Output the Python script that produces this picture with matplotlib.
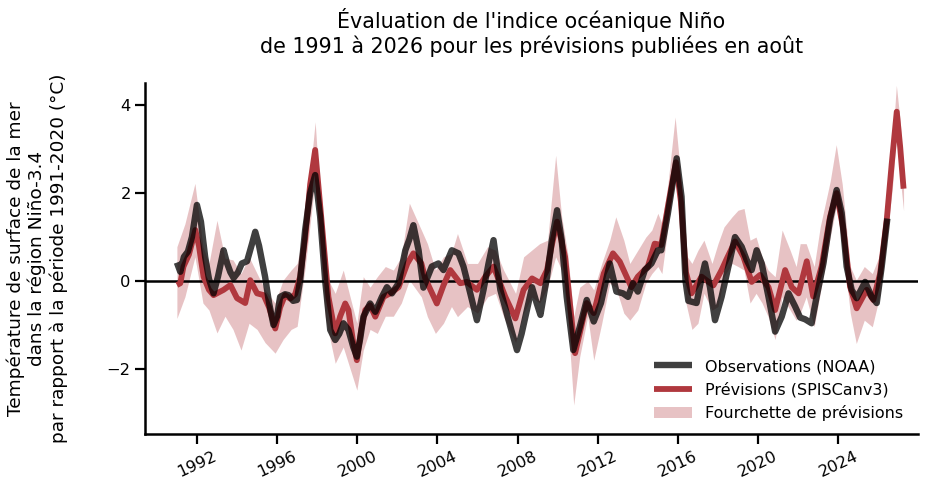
import matplotlib
matplotlib.use("Agg")
import matplotlib.pyplot as plt
import numpy as np

# ---- Data (decimal years) ----
obs_t = [1991.0, 1991.17, 1991.35, 1991.55, 1991.75, 1992.0, 1992.2, 1992.41, 1992.6, 1992.83,
         1993.05, 1993.33, 1993.5, 1993.67, 1993.83, 1994.05, 1994.24, 1994.5, 1994.75, 1994.91,
         1995.1, 1995.4, 1995.6, 1995.82, 1996.0, 1996.15, 1996.4, 1996.57, 1996.8, 1996.99,
         1997.15, 1997.4, 1997.65, 1997.9, 1998.15, 1998.4, 1998.65, 1998.9, 1999.1, 1999.31,
         1999.56, 1999.8, 1999.98, 2000.15, 2000.31, 2000.64, 2000.9, 2001.23, 2001.48, 2001.73,
         2002.06, 2002.4, 2002.6, 2002.8, 2003.06, 2003.3, 2003.72, 2004.05, 2004.3, 2004.72,
         2005.05, 2005.3, 2005.64, 2005.97, 2006.3, 2006.55, 2006.8, 2007.14, 2007.55, 2007.97,
         2008.2, 2008.39, 2008.72, 2008.95, 2009.14, 2009.47, 2009.7, 2009.97, 2010.2, 2010.45,
         2010.78, 2011.1, 2011.45, 2011.8, 2012.16, 2012.6, 2012.93, 2013.26, 2013.51, 2013.76,
         2014.0, 2014.35, 2014.68, 2015.0, 2015.17, 2015.5, 2015.94, 2016.18, 2016.38, 2016.52,
         2016.68, 2016.93, 2017.15, 2017.35, 2017.6, 2017.85, 2018.18, 2018.52, 2018.85, 2019.18,
         2019.43, 2019.68, 2019.93, 2020.18, 2020.52, 2020.85, 2021.18, 2021.52, 2021.85, 2022.1,
         2022.35, 2022.67, 2022.92, 2023.26, 2023.59, 2023.92, 2024.17, 2024.42, 2024.67, 2024.92,
         2025.34, 2025.67, 2025.92, 2026.17, 2026.45]
obs_v = [0.42, 0.21, 0.55, 0.67, 1.0, 1.73, 1.35, 0.55, 0.05, -0.28,
         0.1, 0.70, 0.41, 0.2, 0.07, 0.2, 0.40, 0.45, 0.85, 1.12,
         0.8, 0.1, -0.5, -1.0, -0.8, -0.36, -0.3, -0.32, -0.45, -0.43,
         0.02, 1.16, 2.0, 2.41, 1.46, 0.0, -1.11, -1.34, -1.2, -0.96,
         -1.11, -1.5, -1.72, -1.3, -0.81, -0.51, -0.7, -0.36, -0.14, -0.28,
         -0.05, 0.7, 0.95, 1.27, 0.7, -0.15, 0.33, 0.4, 0.25, 0.7,
         0.63, 0.33, -0.28, -0.89, -0.2, 0.4, 0.93, -0.2, -0.89, -1.57,
         -1.2, -0.81, -0.14, -0.5, -0.77, 0.1, 0.9, 1.61, 0.93, -0.36,
         -1.57, -1.05, -0.43, -0.92, -0.5, 0.4, -0.24, -0.28, -0.36, -0.05,
         -0.24, 0.25, 0.4, 0.7, 0.7, 1.54, 2.79, 1.92, 0.0, -0.45,
         -0.47, -0.5, 0.0, 0.4, -0.14, -0.89, -0.36, 0.33, 1.0, 0.78,
         0.48, 0.25, 0.7, 0.4, -0.36, -1.15, -0.81, -0.28, -0.58, -0.83,
         -0.87, -0.96, -0.36, 0.4, 1.39, 2.07, 1.55, 0.33, -0.2, -0.39,
         -0.02, -0.36, -0.5, 0.33, 1.42]

fc_t = [1991.0, 1991.17, 1991.33, 1991.6, 1991.92, 1992.1, 1992.33, 1992.6, 1992.83, 1993.33,
        1993.67, 1994.0, 1994.41, 1994.66, 1995.0, 1995.33, 1995.6, 1995.91, 1996.15, 1996.4,
        1996.65, 1996.9, 1997.15, 1997.4, 1997.65, 1997.9, 1998.2, 1998.56, 1998.9, 1999.15,
        1999.4, 1999.56, 1999.8, 1999.98, 2000.2, 2000.4, 2000.64, 2000.9, 2001.31, 2001.64,
        2002.06, 2002.5, 2002.8, 2003.2, 2003.39, 2003.97, 2004.3, 2004.64, 2005.14, 2005.47,
        2005.97, 2006.39, 2006.8, 2007.39, 2007.89, 2008.3, 2008.72, 2009.14, 2009.47, 2009.7,
        2009.97, 2010.37, 2010.87, 2011.45, 2011.8, 2012.3, 2012.76, 2013.1, 2013.68, 2014.0,
        2014.5, 2014.84, 2015.17, 2015.5, 2015.9, 2016.15, 2016.4, 2016.68, 2017.18, 2017.77,
        2018.18, 2018.43, 2018.85, 2019.27, 2019.68, 2020.1, 2020.52, 2020.85, 2021.35, 2021.68,
        2022.02, 2022.43, 2022.75, 2023.17, 2023.59, 2023.92, 2024.26, 2024.59, 2024.92, 2025.42,
        2025.75, 2026.09, 2026.42, 2026.67, 2026.92, 2027.09, 2027.26]
fc_v = [-0.09, -0.05, 0.33, 0.6, 1.16, 0.8, 0.1, -0.2, -0.32, -0.2,
        -0.09, -0.39, -0.5, 0.02, -0.28, -0.32, -0.6, -1.08, -0.6, -0.32,
        -0.4, -0.3, 0.1, 0.97, 2.2, 2.98, 1.46, -0.36, -1.19, -0.8,
        -0.51, -0.66, -1.4, -1.8, -1.1, -0.66, -0.55, -0.81, -0.36, -0.28,
        -0.14, 0.4, 0.63, 0.4, 0.06, -0.51, -0.1, 0.25, -0.05, -0.02,
        -0.2, 0.1, 0.33, -0.36, -0.85, -0.2, 0.06, -0.05, 0.25, 0.8,
        1.35, 0.55, -1.64, -0.5, -0.73, 0.17, 0.63, 0.44, -0.14, 0.1,
        0.33, 0.85, 0.82, 1.69, 2.7, 1.8, 0.2, -0.28, 0.1, -0.1,
        0.25, 0.5, 0.9, 0.55, -0.02, 0.14, -0.14, -0.66, 0.25, -0.14,
        -0.28, 0.45, -0.35, 0.33, 1.46, 2.0, 1.16, -0.13, -0.62, -0.2,
        -0.43, 0.17, 1.39, 2.67, 3.85, 3.05, 2.1]

band_t = [1991.0, 1991.4, 1991.9, 1992.3, 1992.6, 1993.0, 1993.4, 1993.8, 1994.2, 1994.6,
          1995.0, 1995.4, 1995.9, 1996.3, 1996.7, 1997.0, 1997.4, 1997.9, 1998.4, 1998.9,
          1999.3, 1999.98, 2000.3, 2000.64, 2001.0, 2001.4, 2001.8, 2002.2, 2002.6, 2003.2,
          2003.5, 2003.9, 2004.3, 2004.7, 2005.0, 2005.5, 2006.0, 2006.5, 2006.9, 2007.3,
          2007.9, 2008.3, 2008.7, 2009.1, 2009.5, 2009.9, 2010.2, 2010.5, 2010.8, 2011.1,
          2011.5, 2011.8, 2012.2, 2012.6, 2012.9, 2013.3, 2013.6, 2014.0, 2014.4, 2014.7,
          2015.0, 2015.2, 2015.5, 2015.86, 2016.1, 2016.4, 2016.7, 2017.0, 2017.3, 2017.7,
          2018.0, 2018.3, 2018.7, 2019.0, 2019.3, 2019.6, 2019.9, 2020.2, 2020.5, 2020.85,
          2021.2, 2021.6, 2021.9, 2022.1, 2022.4, 2022.8, 2023.1, 2023.6, 2023.9, 2024.2,
          2024.6, 2024.9, 2025.3, 2025.7, 2026.1, 2026.4, 2026.7, 2026.9, 2027.1, 2027.26]
band_lo = [-0.85, -0.36, 0.55, -0.5, -0.66, -1.18, -0.8, -1.1, -1.57, -0.96,
           -1.1, -1.4, -1.64, -1.33, -1.1, -1.03, 0.3, 2.3, -0.81, -1.87,
           -1.5, -2.48, -1.57, -1.1, -1.19, -0.8, -0.8, -0.5, 0.02, -0.36,
           -0.81, -1.19, -0.96, -0.58, -0.81, -0.58, -0.73, -0.36, -0.28, -0.81,
           -1.4, -0.73, -0.36, -0.5, -0.14, 0.55, 0.25, -0.81, -2.82, -1.72,
           -0.8, -1.8, -0.96, -0.05, -0.14, -0.73, -0.89, -0.66, -0.05, 0.17,
           0.33, 0.17, 1.2, 2.4, 1.4, -0.5, -1.1, -0.96, -0.28, -0.66,
           -0.58, 0.1, 0.4, 0.33, 0.25, -0.5, -0.28, -0.5, -0.81, -1.33,
           -0.36, -0.66, -0.89, -0.73, -0.36, -1.04, -0.28, 1.0, 1.69, 0.93,
           -0.73, -1.42, -0.89, -1.04, -0.28, 0.93, 2.1, 3.3, 2.3, 1.6]
band_hi = [0.78, 1.3, 2.22, 0.78, 0.4, 1.38, 0.52, 0.48, 0.17, 0.55,
           0.17, -0.2, -0.5, 0.02, 0.25, 0.4, 1.31, 3.62, 0.17, -0.28,
           0.25, -0.96, 0.1, -0.14, 0.1, 0.33, 0.25, 0.55, 1.77, 1.16,
           0.85, 0.25, 0.55, 0.63, 1.08, 0.4, 0.4, 0.78, 0.7, 0.25,
           -0.28, 0.55, 0.7, 0.85, 0.93, 2.86, 1.46, 0.63, -0.81, -0.14,
           0.0, -0.2, 0.4, 0.93, 1.46, 0.93, 0.4, 0.7, 1.0, 1.16,
           1.54, 1.31, 2.2, 3.73, 2.6, 0.6, 0.4, 0.7, 0.93, 0.4,
           0.85, 1.23, 1.46, 1.61, 1.65, 0.93, 1.0, 0.55, 0.25, 0.1,
           1.16, 0.7, 0.33, 0.85, 0.85, 0.33, 1.23, 2.27, 3.1, 2.2,
           0.33, 0.02, 0.33, 0.17, 0.63, 1.84, 3.1, 4.45, 3.6, 2.3]

tick_years = [1992, 1996, 2000, 2004, 2008, 2012, 2016, 2020, 2024]
y_ticks = [-2, 0, 2, 4]

title = "Évaluation de l'indice océanique Niño\nde 1991 à 2026 pour les prévisions publiées en août"
ylabel = ("Température de surface de la mer\ndans la région Niño-3.4\n"
          "par rapport à la période 1991-2020 (°C)")

RED = "#b0383e"

fig = plt.figure(figsize=(9.25, 4.95), dpi=100)
ax = fig.add_axes([0.157, 0.123, 0.835, 0.710])

ax.fill_between(band_t, band_lo, band_hi, color=RED, alpha=0.3, linewidth=0,
                label="Fourchette de prévisions")
ax.plot(fc_t, fc_v, color=RED, lw=4.2, label="Prévisions (SPISCanv3)", solid_capstyle="butt")
ax.plot(obs_t, obs_v, color="black", alpha=0.75, lw=4.6, label="Observations (NOAA)",
        solid_capstyle="butt")
ax.axhline(0, color="black", lw=1.8, zorder=1)

ax.set_xlim(1989.42, 2027.96)
ax.set_ylim(-3.48, 4.51)
ax.set_xticks(tick_years)
ax.set_xticklabels([str(y) for y in tick_years], rotation=25)
ax.set_yticks(y_ticks)
ax.set_yticklabels(["\u22122", "0", "2", "4"])
ax.tick_params(labelsize=11.7, length=7, width=1.6)
for s in ["top", "right"]:
    ax.spines[s].set_visible(False)
for s in ["left", "bottom"]:
    ax.spines[s].set_linewidth(1.8)

ax.set_title(title, fontsize=14.9, pad=21)
ax.set_ylabel(ylabel, fontsize=13.3, labelpad=28, linespacing=1.2)

handles, labels = ax.get_legend_handles_labels()
order = [2, 1, 0]
ax.legend([handles[i] for i in order], [labels[i] for i in order], loc="lower right",
          frameon=False, fontsize=11.5, handlelength=2.4, bbox_to_anchor=(1.0, -0.005))

fig.savefig("out.png", dpi=100)
